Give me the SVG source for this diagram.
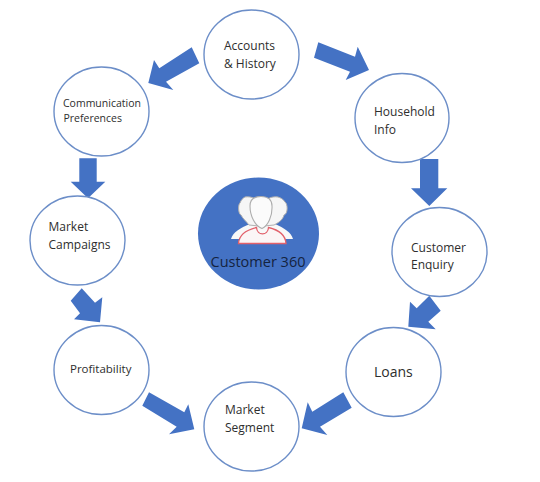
<svg xmlns="http://www.w3.org/2000/svg" width="540" height="482" viewBox="0 0 540 482">
<style>
.n{fill:#fff;stroke:#6c8ec8;stroke-width:1.4}
.a{fill:#4472c4}
text{font-family:"Open Sans","Noto Sans",sans-serif;font-size:12px;fill:#2e2e2e}
.hb{fill:#f6f6f6;stroke:#b0b0b0;stroke-width:1}
</style>
<rect width="540" height="482" fill="#fff"/>
<g id="connectors">
<polygon class="a" points="191.700,47.300 199.300,63.300 166,81.700 173.300,90 148.300,83 154,60 159.300,68.300"/>
<polygon class="a" points="318.300,42.300 314,57.700 350,71.700 345.700,80 369,70 357.700,46.700 355,56.700"/>
<polygon class="a" points="420,159 438.300,159 438.300,188.300 447.300,188.300 429.300,206 411,188.300 420,188.300"/>
<polygon class="a" points="79.300,158.300 96.700,158.300 96.700,181.700 105.300,181.700 88,198.300 70.700,181.700 79.300,181.700"/>
<polygon class="a" points="81.700,288.300 70.700,300.700 80,313.300 74,319.300 100,322.300 102.300,297.300 95,302.700"/>
<polygon class="a" points="149,392.300 142.300,405.700 176.700,426.700 169,434.300 194.300,429.300 188.300,404.300 184.300,412.300"/>
<polygon class="a" points="343.300,392.300 351.700,407.700 320,426.700 327.300,435 301.700,428.300 307.700,402.300 312.300,411.700"/>
<polygon class="a" points="429.300,295.700 440.700,310.700 428.300,321.700 435.700,329.300 408.300,326.700 410,301.700 416.700,308.300"/>
</g>
<g id="accounts"><ellipse class="n" cx="251.500" cy="54.500" rx="47.500" ry="44.500"/><text x="224" y="50">Accounts</text><text x="224" y="68">&amp; History</text></g>
<g id="communication"><ellipse class="n" cx="101.500" cy="111.500" rx="47.500" ry="44.500"/><text x="63" y="107" style="font-size:10.500px">Communication</text><text x="63.500" y="122" style="font-size:10.500px">Preferences</text></g>
<g id="household"><ellipse class="n" cx="402" cy="118" rx="47" ry="44.500"/><text x="374" y="116">Household</text><text x="374" y="134">Info</text></g>
<g id="enquiry"><ellipse class="n" cx="439.500" cy="252" rx="47.500" ry="44.500"/><text x="411" y="251.500">Customer</text><text x="411" y="269">Enquiry</text></g>
<g id="campaigns"><ellipse class="n" cx="77.500" cy="240.500" rx="47.500" ry="44.500"/><text x="48.500" y="231">Market</text><text x="48.500" y="249">Campaigns</text></g>
<g id="profitability"><ellipse class="n" cx="101.500" cy="370" rx="47.500" ry="44.500"/><text x="70" y="373" style="font-size:11.500px">Profitability</text></g>
<g id="segment"><ellipse class="n" cx="251.500" cy="426.500" rx="47.500" ry="44.500"/><text x="225" y="414">Market</text><text x="225" y="432">Segment</text></g>
<g id="loans"><ellipse class="n" cx="393.500" cy="372" rx="47.500" ry="44.500"/><text x="374" y="376.500" style="font-size:14px">Loans</text></g>
<g id="customer360">
<ellipse cx="258.500" cy="233.500" rx="60.500" ry="56" fill="#4472c4"/>
<path d="M231 239C233 232 240 228 250 224L275 224C284 228 291 232 293 239Z" fill="#f8f8f8"/>
<path class="hb" d="M245 197C252 196 257 199 259 204L259 226L249 225C246 221 243 219 241 215C238 214 238 204 240 203C241 200 243 198 245 197Z"/>
<path class="hb" d="M278 197C271 196 266 199 264 204L264 226L274 225C280 222 283 219 284 215C288 214 288 204 285 202C283 199 281 198 278 197Z"/>
<path d="M238.500 243.500C239 235 246 230 256.500 227.500C257 236 268 236 268.500 227.500C279 230 285.500 235 286 243.500Z" fill="#fbf6f6" stroke="#e2616b" stroke-width="1.300"/>
<path d="M261 196.500C268 196.500 272 200 272 206C272.500 216 268 226 262 228.500C255 226 250 216 250 206C250 200 254 196.500 261 196.500Z" fill="#fbfbfb" stroke="#adadad" stroke-width="1.100"/>
<text x="210.500" y="266.500" style="font-size:14.500px;fill:#14233f">Customer 360</text>
</g>
</svg>
